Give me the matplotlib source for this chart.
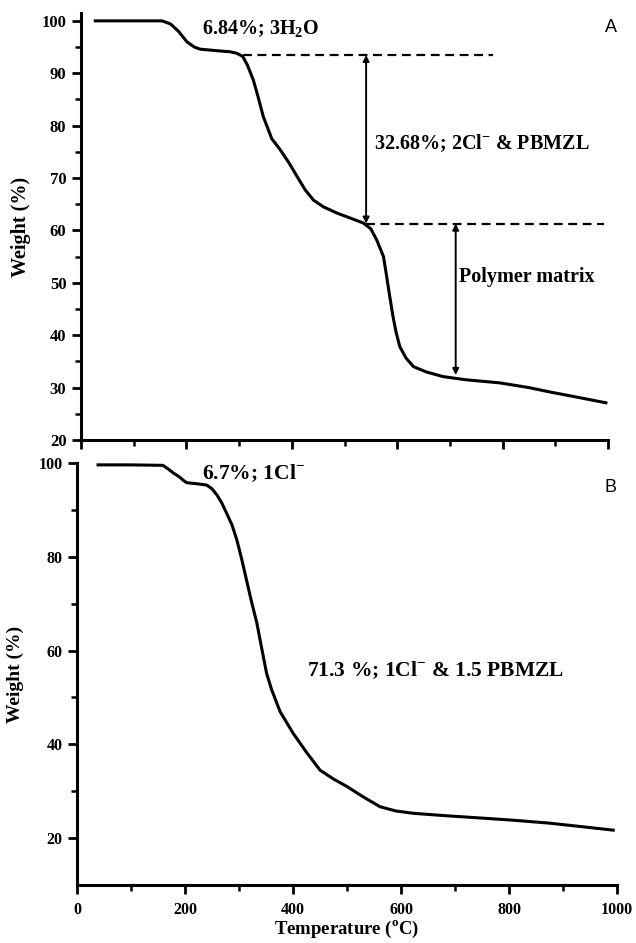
import numpy as np
import matplotlib.pyplot as plt

# TGA curve A (temperature in C, weight in %)
temp_a = [27, 100, 154, 170, 185, 201, 215, 226, 258, 283, 296, 307, 316, 327, 336,
          346, 362, 378, 394, 410, 425, 441, 460, 486, 510, 536, 550, 561, 574, 580,
          586, 592, 598, 605, 617, 631, 655, 687, 730, 795, 850, 888, 940, 996]
weight_a = [100, 100, 100, 99.4, 98.0, 96.0, 95.0, 94.6, 94.3, 94.1, 93.8, 93.2, 91.5, 88.7, 85.5,
            81.7, 77.5, 75.4, 73.0, 70.3, 67.8, 65.8, 64.5, 63.3, 62.4, 61.4, 60.3, 58.2, 55.0, 51.2,
            47.3, 43.6, 40.5, 37.8, 35.6, 34.0, 33.0, 32.1, 31.5, 30.9, 30.0, 29.2, 28.2, 27.1]

# TGA curve B
temp_b = [39, 100, 159, 168, 178, 190, 197, 203, 220, 240, 250, 259, 268, 277, 287,
          296, 305, 314, 323, 333, 342, 351, 360, 376, 400, 425, 450, 475, 500, 530,
          561, 590, 622, 680, 746, 810, 874, 930, 993]
weight_b = [99.6, 99.6, 99.5, 98.8, 97.9, 97.0, 96.3, 95.8, 95.6, 95.3, 94.5, 93.2, 91.5, 89.3, 86.8,
            83.6, 79.5, 75.0, 70.5, 65.9, 60.5, 55.2, 51.8, 47.0, 42.4, 38.3, 34.5, 32.6, 31.0, 28.8,
            26.7, 25.8, 25.3, 24.8, 24.3, 23.8, 23.2, 22.5, 21.7]

step_a = [93.5, 61.3, 32.4]
xticks = [0, 200, 400, 600, 800, 1000]

plt.rcParams['font.family'] = 'Liberation Serif'
plt.rcParams['font.weight'] = 'bold'
plt.rcParams['mathtext.fontset'] = 'custom'
plt.rcParams['mathtext.rm'] = 'Liberation Serif:bold'
plt.rcParams['mathtext.bf'] = 'Liberation Serif:bold'

fig = plt.figure(figsize=(6.36, 9.43), dpi=100)
ax1 = fig.add_axes([81/636, 1-440/943, 527/636, 427/943])
ax2 = fig.add_axes([77/636, 1-885/943, 540/636, 422/943])

for ax in (ax1, ax2):
    for s in ('top', 'right'):
        ax.spines[s].set_visible(False)
    for s in ('left', 'bottom'):
        ax.spines[s].set_linewidth(2.2)
    ax.set_xlim(0, 1000)
    ax.set_xticks(xticks)
    ax.set_xticks(np.arange(100, 1000, 200), minor=True)
    ax.tick_params(which='major', direction='out', length=6.5, width=2, pad=4)
    ax.tick_params(which='minor', direction='out', length=4, width=1.8)

# panel A
ax1.plot(temp_a, weight_a, color='black', lw=2.2)
ax1.set_ylim(20, 101.5)
ax1.set_yticks(np.arange(20, 101, 10))
ax1.set_yticks(np.arange(25, 100, 10), minor=True)
ax1.tick_params(axis='x', labelbottom=False)
ax1.tick_params(axis='y', labelsize=12)
ax1.set_ylabel('Weight (%)', fontsize=14.5, fontweight='bold')
ax1.yaxis.set_label_coords(-0.095, 0.5)
ax1.plot([308, 782], [step_a[0], step_a[0]], color='black', lw=1.6, ls=(0, (4, 2.5)))
ax1.plot([541, 993], [step_a[1], step_a[1]], color='black', lw=1.6, ls=(0, (4, 2.5)))
arr = dict(arrowstyle='<|-|>', lw=1.4, color='black', mutation_scale=9, shrinkA=0, shrinkB=0)
ax1.annotate('', xy=(541, step_a[1]), xytext=(541, step_a[0]), arrowprops=arr)
ax1.annotate('', xy=(711, step_a[2]), xytext=(711, step_a[1]), arrowprops=arr)
ax1.text(230, 98.3, r'6.84%; 3H$_\mathbf{2}$O', fontsize=14.5, va='center')
ax1.text(556, 76.7, r'32.68%; 2Cl$^\mathbf{-}$ & PBMZL', fontsize=14.5, va='center')
ax1.text(717, 51.1, 'Polymer matrix', fontsize=14.5, va='center')
fig.text(611/636, 1-28/943, 'A', family='Liberation Sans', fontweight='normal',
         fontsize=13, ha='center', va='center')

# panel B
ax2.plot(temp_b, weight_b, color='black', lw=2.2)
ax2.set_ylim(10, 100)
ax2.set_yticks([20, 40, 60, 80, 100])
ax2.set_yticks([30, 50, 70, 90], minor=True)
ax2.tick_params(labelsize=11.5)
ax2.tick_params(axis='x', pad=6)
ax2.set_ylabel('Weight (%)', fontsize=14, fontweight='bold')
ax2.yaxis.set_label_coords(-0.098, 0.5)
ax2.set_xlabel(r'Temperature ($^\mathbf{o}$C)', fontsize=13.5, fontweight='bold')
ax2.xaxis.set_label_coords(0.5, -0.08)
ax2.text(231, 97.9, r'6.7%; 1Cl$^\mathbf{-}$', fontsize=15.5, va='center')
ax2.text(426, 55.9, r'71.3 %; 1Cl$^\mathbf{-}$ & 1.5 PBMZL', fontsize=15.5, va='center')
fig.text(611/636, 1-488/943, 'B', family='Liberation Sans', fontweight='normal',
         fontsize=13, ha='center', va='center')

fig.savefig('out.png', dpi=100)
